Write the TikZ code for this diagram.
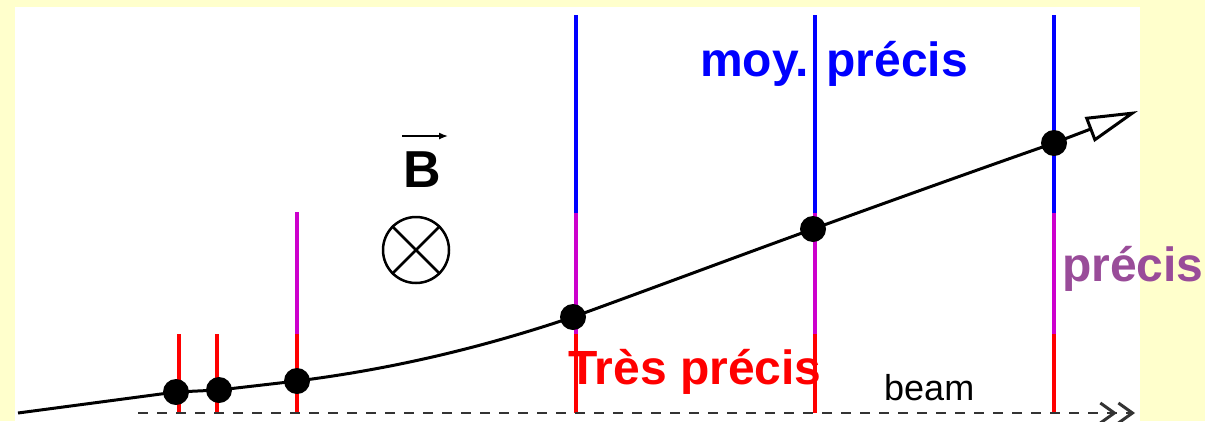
\documentclass[tikz,border=0pt]{standalone}
\usepackage{fontspec}
\setmainfont{Liberation Sans}
\usetikzlibrary{arrows.meta}
\definecolor{bg}{HTML}{FFFFCC}
\definecolor{mag}{HTML}{CC00CC}
\definecolor{purp}{HTML}{994C99}
\definecolor{beamgray}{HTML}{333333}
\begin{document}
\begin{tikzpicture}[x=1pt,y=-1pt,
  det/.style={line width=4pt},
  hit/.style={circle,fill=black,inner sep=0pt,minimum size=26pt},
  lbl/.style={font=\fontsize{48}{48}\selectfont\bfseries,inner sep=0pt,anchor=base west},
  track/.style={line width=3pt}]
\fill[bg] (0,0) rectangle (1205,421);
\fill[white] (15,7) rectangle (1140,421);
\useasboundingbox (0,0) rectangle (1205,421);
% detector planes
\draw[det,red] (179,334) -- (179,413);
\draw[det,red] (217,334) -- (217,413);
\draw[det,mag] (297,212) -- (297,334);
\draw[det,red] (297,334) -- (297,413);
\foreach \x in {576,815,1054}{
  \draw[det,blue] (\x,15) -- (\x,213);
  \draw[det,mag] (\x,213) -- (\x,334);
  \draw[det,red] (\x,334) -- (\x,413);
}
% beam
\coordinate (bs) at (138,413);
\coordinate (be) at (1135,413);
\draw[beamgray,line width=2.5pt,dash pattern=on 10pt off 9pt,
  -{Straight Barb[length=14pt,width=20pt,line width=3pt]Straight Barb[length=14pt,width=20pt,line width=3pt]}] (bs) -- (be);
% track
\coordinate (t0) at (18,413);
\coordinate (h1) at (176,392);
\coordinate (h2) at (219,390);
\coordinate (h3) at (297,381);
\coordinate (h4) at (573,317);
\coordinate (h5) at (813,229);
\coordinate (h6) at (1054,143);
\coordinate (tend) at (1138,111);
\draw[track] (t0) -- (h1) -- (h2) -- (h3)
  .. controls (400,368) and (490,345) .. (h4)
  .. controls (653,288) and (733,258) .. (h5)
  .. controls (893,200) and (974,171) .. (h6);
\draw[track,-{Triangle[open,length=52pt,width=26pt,line width=3pt]}] (h6) -- (tend);
\foreach \h in {h1,h2,h3,h4,h5,h6}{ \node[hit] (n\h) at (\h) {}; }
% magnetic field
\node[font=\fontsize{52}{52}\selectfont\bfseries,inner sep=0pt,anchor=base] (B) at (422,187) {B};
\draw[line width=1.5pt,-{Latex[length=9pt,width=7pt]}] ([xshift=-20pt,yshift=15pt]B.north) -- ([xshift=26pt,yshift=15pt]B.north);
\node[circle,draw,line width=2.5pt,minimum size=66pt,inner sep=0pt] (ot) at (416,250) {};
\draw[line width=2.5pt] (ot.north west) -- (ot.south east);
\draw[line width=2.5pt] (ot.north east) -- (ot.south west);
% labels
\node[font=\fontsize{36}{36}\selectfont,anchor=base west,inner sep=0pt] (beam) at (884,400) {beam};
\node[lbl,text=blue] (moy) at (700,76) {moy. précis};
\node[lbl,text=red] (tres) at (568,384) {Très précis};
\node[lbl,text=purp] (prec) at (1062,281) {précis};
\end{tikzpicture}
\end{document}
